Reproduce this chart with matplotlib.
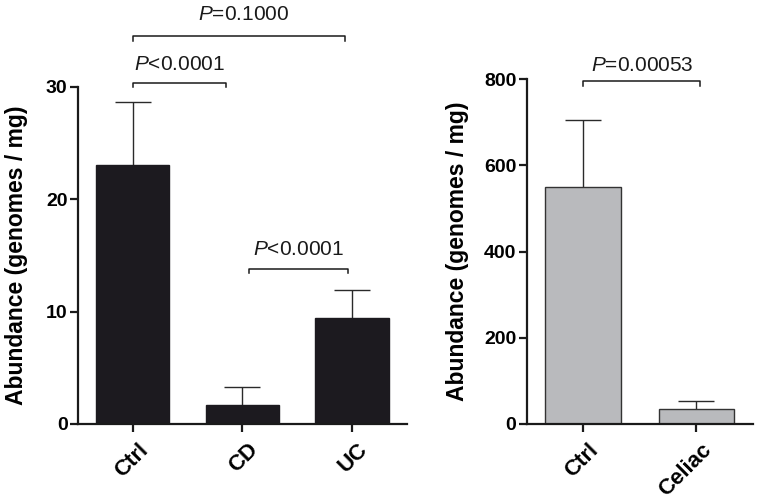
import numpy as np
import matplotlib
matplotlib.use("Agg")
import matplotlib.pyplot as plt
import matplotlib.transforms as mtransforms

plt.rcParams['font.family'] = ['Liberation Sans', 'DejaVu Sans']
plt.rcParams['mathtext.fontset'] = 'custom'
plt.rcParams['mathtext.rm'] = 'Liberation Sans'
plt.rcParams['mathtext.it'] = 'Liberation Sans:italic'

# left panel: IBD groups
ibd_groups = ['Ctrl', 'CD', 'UC']
ibd_means = [23.0, 1.66, 9.4]
ibd_sem = [5.65, 1.66, 2.5]

# right panel: celiac
cel_groups = ['Ctrl', 'Celiac']
cel_means = [549, 35]
cel_sem = [156, 19]

# significance brackets: (x1, x2, y, label, label_x, label_y)
ibd_pvals = [
    (0, 0.85, 30.35, '$P$<0.0001', 0.43, 31.5),
    (0, 1.94, 34.5, '$P$=0.1000', 1.01, 35.9),
    (1.06, 1.965, 13.8, '$P$<0.0001', 1.51, 15.0),
]
cel_pvals = [
    (0, 1.03, 795, '$P$=0.00053', 0.52, 819),
]

fig = plt.figure(figsize=(7.59, 5.03), dpi=100)
ax1 = fig.add_axes([78/759, 1-424/503, 328.7/759, 337.3/503])
ax2 = fig.add_axes([526.7/759, 1-424/503, 226.3/759, 345/503])


def style_axis(ax, ymax, yticks, pad):
    ax.set_ylim(0, ymax)
    ax.set_yticks(yticks)
    for s in ['top', 'right']:
        ax.spines[s].set_visible(False)
    for s in ['left', 'bottom']:
        ax.spines[s].set_linewidth(1.6)
        ax.spines[s].set_color('#1a1a1a')
    ax.tick_params(axis='both', direction='out', length=6, width=1.6,
                   color='#1a1a1a')
    ax.tick_params(axis='y', pad=1.5, labelsize=14)
    ax.tick_params(axis='x', pad=5)
    for lab in ax.get_yticklabels():
        lab.set_fontweight('bold')
    ax.set_ylabel('Abundance (genomes / mg)', fontsize=16.5,
                  fontweight='bold', labelpad=pad)


def draw_bars(ax, groups, means, sem, color, edge):
    x = np.arange(len(groups))
    ax.bar(x, means, width=0.67, color=color, edgecolor=edge,
           linewidth=1.0, zorder=2)
    eb = ax.errorbar(x, means, yerr=[np.zeros(len(x)), sem], fmt='none',
                     ecolor='#2a2a2a', elinewidth=1.0, capsize=13,
                     capthick=1.0, zorder=1)
    eb[1][0].set_visible(False)
    ax.set_xlim(-0.5, len(groups) - 0.5)
    ax.set_xticks(x)
    ax.set_xticklabels(groups, rotation=45, ha='right',
                       rotation_mode='anchor', fontsize=16,
                       fontweight='bold')
    shift = mtransforms.ScaledTranslation(3.5/72, 0, fig.dpi_scale_trans)
    for lab in ax.get_xticklabels():
        lab.set_transform(lab.get_transform() + shift)


def draw_brackets(ax, pvals, drop):
    for x1, x2, y, label, lx, ly in pvals:
        ax.plot([x1, x1, x2, x2], [y - drop, y, y, y - drop],
                color='#1a1a1a', lw=1.1, clip_on=False)
        ax.text(lx, ly, label, ha='center', va='baseline', fontsize=15,
                color='#1a1a1a', clip_on=False)


style_axis(ax1, 30, [0, 10, 20, 30], 13)
draw_bars(ax1, ibd_groups, ibd_means, ibd_sem, '#1c1a1f', '#1c1a1f')
draw_brackets(ax1, ibd_pvals, 0.4)

style_axis(ax2, 800, [0, 200, 400, 600, 800], 11)
draw_bars(ax2, cel_groups, cel_means, cel_sem, '#b9babd', '#333333')
draw_brackets(ax2, cel_pvals, 11)

fig.savefig('out.png', dpi=100)
